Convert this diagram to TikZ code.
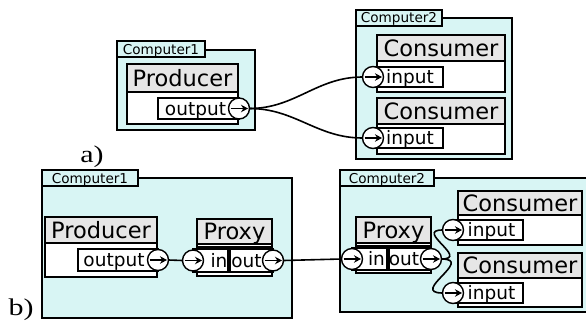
\documentclass[tikz,border=0pt]{standalone}
\usepackage{fontspec}
\setmainfont{DejaVu Sans}
\newfontfamily\abfont{Liberation Serif}
\usetikzlibrary{arrows.meta}
\definecolor{frameC}{RGB}{216,245,244}
\definecolor{headC}{RGB}{230,230,230}
% style, name, x1, y1, x2, y2, text
\newcommand\rbox[7]{\node[#1, minimum width={#5-#3}, minimum height={#6-#4}] (#2) at ({(#3+#5)/2},{(#4+#6)/2}) {#7};}
\begin{document}
\begin{tikzpicture}[x=1pt,y=-1pt,
  frame/.style={draw, fill=frameC, line width=1.4pt, inner sep=0pt, outer sep=0pt},
  tab/.style={frame, font=\fontsize{13.6}{14}\selectfont, text height=10pt, text depth=0pt},
  body/.style={draw, fill=white, line width=1.4pt, inner sep=0pt, outer sep=0pt},
  head/.style={body, fill=headC, font=\fontsize{22.5}{24}\selectfont, text height=16pt, text depth=0pt},
  lbl/.style={inner sep=0pt, font=\fontsize{18.5}{20}\selectfont, text height=13pt, text depth=0pt},
  port/.style={circle, draw, fill=white, line width=1.4pt, minimum size=21pt, inner sep=0pt, outer sep=0pt,
    path picture={\draw[line width=1.7pt,-{Stealth[length=7pt,width=7.5pt]}]
      ([xshift=-8.5pt]path picture bounding box.center) -- ([xshift=9pt]path picture bounding box.center);}},
  wire/.style={line width=1.6pt},
  sub/.style={inner sep=0pt, font=\abfont\fontsize{24}{26}\selectfont}]
\useasboundingbox (0,0) rectangle (586,324);
\clip (0,0) rectangle (586,324);
% ---------- a) ----------
\rbox{frame}{fa1}{117}{50}{255}{130}{}
\rbox{tab}{ta1}{117}{41}{205}{57}{Computer1}
\rbox{frame}{fa2}{356}{18}{512}{159}{}
\rbox{tab}{ta2}{356}{10}{442}{26}{Computer2}
% producer
\rbox{body}{pa}{127}{64}{238}{124}{}
\rbox{head}{pah}{127}{64}{238}{92}{Producer}
\rbox{body}{pab}{158}{98}{239}{119}{}
\node[lbl] (pal) at (195.5,108.5) {output};
% consumers
\rbox{body}{ca1}{377}{35}{505}{92}{}
\rbox{head}{ca1h}{377}{35}{505}{61}{Consumer}
\rbox{body}{ca1b}{373}{67}{443}{87}{}
\node[lbl] (ca1l) at (410,77) {input};
\rbox{body}{ca2}{377}{98}{505}{154}{}
\rbox{head}{ca2h}{377}{98}{505}{124}{Consumer}
\rbox{body}{ca2b}{373}{128}{443}{148}{}
\node[lbl] (ca2l) at (410,138) {input};
% ports and wires
\node[port] (pap) at (239,108.5) {};
\node[port] (ca1p) at (373,77) {};
\node[port] (ca2p) at (373,138) {};
\draw[wire] (pap.east) to[out=0,in=180] (ca1p.west);
\draw[wire] (pap.east) to[out=0,in=180] (ca2p.west);
\node[sub, xscale=1.25] (la) at (92,157) {a)};
% ---------- b) ----------
\rbox{frame}{fb1}{42}{178}{292}{318}{}
\rbox{tab}{tb1}{42}{170}{138}{186}{Computer1}
\rbox{frame}{fb2}{340}{178}{592}{312}{}
\rbox{tab}{tb2}{340}{170}{434}{186}{Computer2}
% producer
\rbox{body}{pb}{45}{217}{157}{277}{}
\rbox{head}{pbh}{45}{217}{157}{243}{Producer}
\rbox{body}{pbb}{78}{249}{158}{271}{}
\node[lbl] (pbl) at (114,260) {output};
% proxy 1
\rbox{body}{xa}{197}{219}{272}{276}{}
\rbox{head}{xah}{197}{219}{272}{244}{Proxy}
\rbox{body}{xas}{197}{247}{272}{276}{}
\rbox{body}{xaib}{193}{249}{228}{272}{}
\rbox{body}{xaob}{230}{249}{273}{272}{}
\node[lbl] (xail) at (219,260.5) {in};
\node[lbl] (xaol) at (246.5,260.5) {out};
% proxy 2
\rbox{body}{xb}{356}{217}{431}{273}{}
\rbox{head}{xbh}{356}{217}{431}{243}{Proxy}
\rbox{body}{xbs}{356}{246}{431}{273}{}
\rbox{body}{xbib}{352}{248}{387}{270}{}
\rbox{body}{xbob}{389}{248}{431}{270}{}
\node[lbl] (xbil) at (376.5,259) {in};
\node[lbl] (xbol) at (404,259) {out};
% consumers
\rbox{body}{cb1}{458}{191}{582}{245}{}
\rbox{head}{cb1h}{458}{191}{582}{215}{Consumer}
\rbox{body}{cb1b}{453}{220}{523}{240}{}
\node[lbl] (cb1l) at (491.5,230) {input};
\rbox{body}{cb2}{458}{253}{582}{307}{}
\rbox{head}{cb2h}{458}{253}{582}{278}{Consumer}
\rbox{body}{cb2b}{453}{283}{523}{303}{}
\node[lbl] (cb2l) at (491.5,293) {input};
% ports
\node[port] (pbp) at (158,260) {};
\node[port] (xai) at (193,260.5) {};
\node[port] (xao) at (273,260.5) {};
\node[port] (xbi) at (352,259) {};
\node[port] (xbo) at (431,259) {};
\node[port] (cb1p) at (453,230) {};
\node[port] (cb2p) at (453,293) {};
% wires
\draw[wire] (pbp.east) -- (xai.west);
\draw[wire] (xao.east) -- (xbi.west);
\draw[wire] (xbo.east) to[out=0,in=180,looseness=2.5] (cb1p.west);
\draw[wire] (xbo.east) to[out=0,in=180,looseness=2.5] (cb2p.west);
\node[sub, xscale=1.25] (lb) at (21,310) {b)};
\end{tikzpicture}
\end{document}
